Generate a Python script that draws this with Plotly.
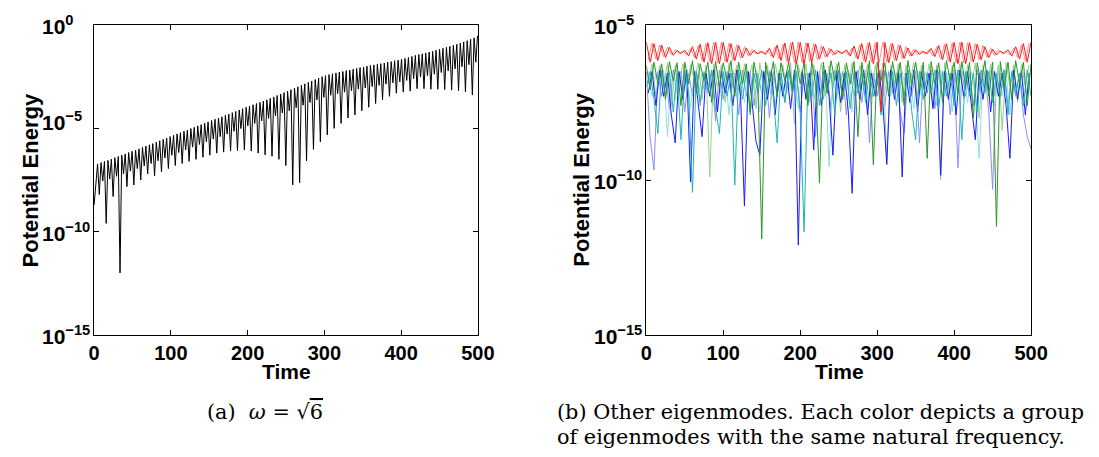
import plotly.graph_objects as go

# ---------------- data ----------------
# Left panel: omega = sqrt(6); potential energy given as log10 values
T_LEFT = [0, 2.25, 4.5, 6.75, 9, 11.25, 13.5, 15.75, 18, 20.25, 22.5, 24.75, 27, 29.25, 31.5, 33.75,
          36, 38.25, 40.5, 42.75, 45, 47.25, 49.5, 51.75, 54, 56.25, 58.5, 60.75, 63, 65.25, 67.5, 69.75,
          72, 74.25, 76.5, 78.75, 81, 83.25, 85.5, 87.75, 90, 92.25, 94.5, 96.75, 99, 101.25, 103.5, 105.75,
          108, 110.25, 112.5, 114.75, 117, 119.25, 121.5, 123.75, 126, 128.25, 130.5, 132.75, 135, 137.25,
          139.5, 141.75, 144, 146.25, 148.5, 150.75, 153, 155.25, 157.5, 159.75, 162, 164.25, 166.5, 168.75,
          171, 173.25, 175.5, 177.75, 180, 182.25, 184.5, 186.75, 189, 191.25, 193.5, 195.75, 198, 200.25,
          202.5, 204.75, 207, 209.25, 211.5, 213.75, 216, 218.25, 220.5, 222.75, 225, 227.25, 229.5, 231.75,
          234, 236.25, 238.5, 240.75, 243, 245.25, 247.5, 249.75, 252, 254.25, 256.5, 258.75, 261, 263.25,
          265.5, 267.75, 270, 272.25, 274.5, 276.75, 279, 281.25, 283.5, 285.75, 288, 290.25, 292.5, 294.75,
          297, 299.25, 301.5, 303.75, 306, 308.25, 310.5, 312.75, 315, 317.25, 319.5, 321.75, 324, 326.25,
          328.5, 330.75, 333, 335.25, 337.5, 339.75, 342, 344.25, 346.5, 348.75, 351, 353.25, 355.5, 357.75,
          360, 362.25, 364.5, 366.75, 369, 371.25, 373.5, 375.75, 378, 380.25, 382.5, 384.75, 387, 389.25,
          391.5, 393.75, 396, 398.25, 400.5, 402.75, 405, 407.25, 409.5, 411.75, 414, 416.25, 418.5, 420.75,
          423, 425.25, 427.5, 429.75, 432, 434.25, 436.5, 438.75, 441, 443.25, 445.5, 447.75, 450, 452.25,
          454.5, 456.75, 459, 461.25, 463.5, 465.75, 468, 470.25, 472.5, 474.75, 477, 479.25, 481.5, 483.75,
          486, 488.25, 490.5, 492.75, 495, 497.25, 499.5]

LEFT_LOG = [
    -8.70, -7.65, -6.72, -8.20,   -6.66, -7.55, -6.60, -9.60,   -6.55, -7.45, -6.49, -8.30,
    -6.42, -7.32, -6.36, -12.00,  -6.30, -7.20, -6.24, -7.82,   -6.17, -7.07, -6.11, -7.74,
    -6.05, -6.95, -5.99, -7.50,   -5.92, -6.82, -5.86, -7.20,   -5.80, -6.70, -5.74, -7.30,
    -5.67, -6.57, -5.60, -7.10,   -5.53, -6.43, -5.47, -6.95,   -5.40, -6.30, -5.34, -6.80,
    -5.27, -6.17, -5.21, -6.70,   -5.14, -6.04, -5.08, -6.60,   -5.01, -5.91, -4.95, -6.50,
    -4.88, -5.78, -4.82, -6.40,   -4.75, -5.65, -4.69, -6.30,   -4.62, -5.52, -4.56, -6.20,
    -4.50, -5.40, -4.44, -6.15,   -4.37, -5.27, -4.31, -6.10,   -4.24, -5.14, -4.18, -6.08,
    -4.11, -5.01, -4.05, -6.05,   -3.98, -4.88, -3.92, -6.10,   -3.86, -4.76, -3.80, -6.20,
    -3.74, -4.64, -3.68, -6.28,   -3.62, -4.52, -3.55, -6.35,   -3.48, -4.40, -3.41, -6.50,
    -3.34, -4.26, -3.27, -6.80,   -3.20, -4.15, -3.13, -7.74,   -3.06, -4.00, -2.99, -7.63,
    -2.92, -3.88, -2.85, -6.58,   -2.78, -3.75, -2.71, -6.02,   -2.64, -3.62, -2.57, -5.65,
    -2.50, -3.50, -2.45, -5.32,   -2.40, -3.40, -2.36, -5.00,   -2.32, -3.32, -2.28, -4.76,
    -2.25, -3.25, -2.21, -4.50,   -2.18, -3.18, -2.14, -4.35,   -2.10, -3.10, -2.06, -4.15,
    -2.03, -3.05, -1.99, -3.98,   -1.96, -2.98, -1.93, -3.80,   -1.90, -2.92, -1.87, -3.62,
    -1.84, -2.86, -1.80, -3.45,   -1.77, -2.80, -1.73, -3.30,   -1.70, -2.75, -1.66, -3.25,
    -1.62, -2.68, -1.57, -3.20,   -1.52, -2.60, -1.47, -3.08,   -1.43, -2.52, -1.39, -3.08,
    -1.35, -2.45, -1.31, -3.11,   -1.27, -2.38, -1.22, -3.11,   -1.18, -2.30, -1.13, -3.12,
    -1.08, -2.22, -1.03, -3.15,   -0.98, -2.12, -0.93, -3.18,   -0.88, -2.02, -0.82, -3.23,
    -0.76, -1.92, -0.69, -3.39,   -0.62, -1.80, -0.52]

# Right panel: other eigenmodes (log10 of potential energy)
T_A = [0, 5, 10, 15, 20, 25, 30, 35, 40, 45, 50, 55, 60, 65, 70, 75, 80, 85, 90, 95,
       100, 105, 110, 115, 120, 125, 130, 135, 140, 145, 150, 155, 160, 165, 170, 175, 180, 185, 190, 195,
       200, 205, 210, 215, 220, 225, 230, 235, 240, 245, 250, 255, 260, 265, 270, 275, 280, 285, 290, 295,
       300, 305, 310, 315, 320, 325, 330, 335, 340, 345, 350, 355, 360, 365, 370, 375, 380, 385, 390, 395,
       400, 405, 410, 415, 420, 425, 430, 435, 440, 445, 450, 455, 460, 465, 470, 475, 480, 485, 490, 495, 500]
T_B = [2.5, 7.5, 12.5, 17.5, 22.5, 27.5, 32.5, 37.5, 42.5, 47.5, 52.5, 57.5, 62.5, 67.5, 72.5, 77.5, 82.5, 87.5, 92.5, 97.5,
       102.5, 107.5, 112.5, 117.5, 122.5, 127.5, 132.5, 137.5, 142.5, 147.5, 152.5, 157.5, 162.5, 167.5, 172.5, 177.5, 182.5, 187.5, 192.5, 197.5,
       202.5, 207.5, 212.5, 217.5, 222.5, 227.5, 232.5, 237.5, 242.5, 247.5, 252.5, 257.5, 262.5, 267.5, 272.5, 277.5, 282.5, 287.5, 292.5, 297.5,
       302.5, 307.5, 312.5, 317.5, 322.5, 327.5, 332.5, 337.5, 342.5, 347.5, 352.5, 357.5, 362.5, 367.5, 372.5, 377.5, 382.5, 387.5, 392.5, 397.5,
       402.5, 407.5, 412.5, 417.5, 422.5, 427.5, 432.5, 437.5, 442.5, 447.5, 452.5, 457.5, 462.5, 467.5, 472.5, 477.5, 482.5, 487.5, 492.5, 497.5]

RED_A = [-5.55, -6.2, -5.6, -6.15, -5.65, -6.05, -5.72, -5.98, -5.82, -5.92,
         -5.82, -6.0, -5.7, -6.1, -5.62, -6.2, -5.57, -6.25, -5.55, -6.25,
         -5.56, -6.2, -5.6, -6.15, -5.66, -6.05, -5.74, -5.98, -5.82, -5.93,
         -5.85, -5.95, -5.75, -6.05, -5.65, -6.15, -5.58, -6.22, -5.55, -6.25,
         -5.56, -6.25, -5.58, -6.2, -5.62, -6.1, -5.7, -6.02, -5.78, -5.95,
         -5.84, -5.92, -5.8, -6.0, -5.68, -6.1, -5.6, -6.2, -5.56, -6.25,
         -5.55, -7.8, -5.56, -6.22, -5.6, -6.15, -5.66, -6.08, -5.74, -6.0,
         -5.8, -5.95, -5.85, -5.93, -5.76, -6.02, -5.66, -6.12, -5.6, -6.2,
         -5.56, -6.25, -5.55, -6.25, -5.57, -6.2, -5.62, -6.12, -5.7, -6.05,
         -5.78, -5.97, -5.84, -5.92, -5.8, -6.0, -5.7, -6.1, -5.6, -6.2,
         -5.55]
PINK_B = [-6.12, -5.58, -6.1, -5.64, -6.02, -5.72, -5.96, -5.8, -5.92, -5.84,
          -5.95, -5.76, -6.05, -5.66, -6.15, -5.6, -6.2, -5.56, -6.22, -5.55,
          -6.2, -5.58, -6.15, -5.63, -6.08, -5.7, -6.0, -5.78, -5.94, -5.84,
          -5.93, -5.8, -6.0, -5.7, -6.1, -5.62, -6.18, -5.57, -6.22, -5.55,
          -6.22, -5.57, -6.18, -5.6, -6.12, -5.66, -6.05, -5.74, -5.98, -5.8,
          -5.93, -5.84, -5.96, -5.74, -6.05, -5.64, -6.15, -5.58, -6.2, -5.56,
          -6.22, -5.55, -6.2, -5.58, -6.15, -5.63, -6.08, -5.7, -6.0, -5.78,
          -5.95, -5.84, -5.93, -5.8, -6.0, -5.7, -6.1, -5.62, -6.18, -5.57,
          -6.22, -5.55, -6.22, -5.57, -6.18, -5.6, -6.12, -5.66, -6.04, -5.74,
          -5.98, -5.8, -5.93, -5.84, -5.96, -5.74, -6.05, -5.64, -6.15, -5.58]
GREEN_A = [-6.3, -7.1, -6.2, -6.9, -6.25, -7.4, -6.18, -6.8, -6.22, -7.6,
           -6.2, -6.9, -6.15, -7.2, -6.25, -6.8, -6.2, -7.5, -6.18, -7.0,
           -6.22, -6.8, -6.15, -7.3, -6.2, -6.9, -6.25, -7.8, -6.2, -6.9,
           -11.9, -6.2, -6.9, -6.18, -7.3, -6.22, -6.8, -6.2, -7.1, -6.15,
           -6.9, -6.2, -7.6, -6.18, -6.9, -10.1, -6.2, -7.2, -6.15, -6.8,
           -6.2, -7.4, -6.22, -6.9, -6.18, -8.6, -6.2, -7.0, -6.15, -9.5,
           -6.2, -6.8, -6.22, -7.3, -6.18, -6.9, -6.2, -7.6, -6.15, -6.9,
           -6.2, -7.1, -6.2, -9.3, -6.18, -6.9, -6.22, -7.5, -6.15, -6.8,
           -6.2, -7.2, -6.18, -7.0, -6.2, -8.0, -6.22, -6.9, -6.15, -7.3,
           -6.2, -11.5, -6.18, -7.0, -6.2, -7.4, -6.15, -6.9, -6.2, -7.6,
           -6.25]
LGREEN_B = [-6.9, -6.25, -7.3, -6.3, -7.0, -6.22, -7.6, -6.3, -6.9, -6.25,
            -7.2, -6.28, -6.8, -6.22, -7.4, -6.3, -9.9, -6.25, -7.0, -6.28,
            -7.5, -6.22, -6.9, -6.3, -7.3, -6.25, -6.8, -6.28, -7.7, -6.22,
            -7.0, -6.3, -7.4, -6.25, -6.9, -6.28, -7.2, -6.22, -8.2, -6.3,
            -6.9, -6.25, -7.5, -6.28, -7.0, -6.22, -7.3, -6.3, -6.9, -6.25,
            -7.8, -6.28, -7.0, -6.22, -7.3, -6.3, -6.9, -6.25, -7.4, -6.28,
            -7.0, -6.22, -9.4, -6.3, -7.1, -6.25, -7.5, -6.28, -6.9, -6.22,
            -7.3, -6.3, -7.0, -6.25, -7.6, -6.28, -10.0, -6.22, -7.2, -6.3,
            -6.9, -6.25, -7.4, -6.28, -7.0, -6.22, -8.0, -6.3, -7.1, -6.25,
            -7.3, -6.28, -8.4, -6.22, -7.0, -6.3, -7.5, -6.25, -7.0, -6.28]
BLUE_B = [-7.2, -6.5, -7.6, -6.45, -7.3, -6.55, -7.9, -8.8, -6.5, -7.4,
          -6.45, -10.06, -6.5, -7.5, -8.6, -6.55, -7.3, -6.45, -7.8, -6.5,
          -7.2, -6.55, -7.6, -6.45, -7.3, -10.84, -6.5, -7.5, -8.75, -9.2,
          -6.5, -7.4, -6.45, -7.9, -6.55, -7.3, -6.5, -7.7, -6.45, -12.1,
          -6.5, -7.4, -6.55, -9.03, -6.5, -7.6, -6.45, -7.3, -9.2, -6.5,
          -7.5, -6.55, -7.8, -10.43, -6.5, -7.4, -6.45, -7.9, -6.55, -7.3,
          -6.5, -7.6, -9.5, -6.45, -7.4, -6.5, -9.9, -6.55, -7.5, -6.45,
          -7.8, -6.5, -7.3, -6.55, -7.7, -6.45, -9.85, -6.5, -7.4, -6.55,
          -7.9, -6.45, -7.3, -6.5, -7.6, -8.7, -6.55, -7.4, -6.45, -7.8,
          -6.5, -7.3, -6.55, -7.6, -9.3, -6.45, -7.4, -6.5, -7.9, -6.55]
LBLUE_A = [-6.5, -8.65, -9.68, -6.5, -7.3, -6.55, -7.7, -6.45, -7.2, -6.5,
           -7.8, -6.55, -7.3, -6.45, -7.6, -6.5, -7.2, -6.55, -8.1, -6.45,
           -7.4, -6.5, -7.2, -6.55, -7.9, -6.45, -7.3, -6.5, -7.6, -6.55,
           -7.2, -6.45, -8.0, -6.5, -7.3, -6.55, -7.5, -6.45, -7.2, -6.5,
           -7.8, -6.55, -7.3, -6.45, -8.6, -6.5, -7.4, -6.55, -7.7, -6.45,
           -7.2, -6.5, -7.9, -6.55, -7.3, -6.45, -7.5, -6.5, -8.8, -6.55,
           -7.3, -6.45, -7.6, -6.5, -7.2, -6.55, -7.8, -8.5, -6.45, -7.3,
           -6.5, -8.8, -6.55, -7.2, -6.45, -7.7, -6.5, -7.3, -6.55, -7.9,
           -6.45, -9.6, -6.5, -7.3, -6.55, -7.6, -6.45, -7.2, -6.5, -7.8,
           -10.3, -6.55, -7.4, -6.45, -7.6, -6.5, -7.3, -6.55, -7.9, -8.6,
           -9.0]
TEAL_A = [-7.0, -6.5, -7.4, -8.5, -6.45, -7.3, -6.5, -7.8, -6.55, -8.7,
          -6.45, -7.2, -10.4, -6.5, -7.5, -6.55, -7.1, -6.45, -7.7, -8.5,
          -6.5, -7.3, -6.55, -10.16, -6.45, -7.4, -6.5, -7.9, -6.55, -7.2,
          -6.45, -7.6, -6.5, -7.3, -8.8, -6.55, -7.5, -6.45, -7.2, -6.5,
          -7.8, -11.67, -6.55, -7.3, -6.45, -7.6, -6.5, -7.2, -6.55, -7.9,
          -6.45, -7.4, -6.5, -7.7, -6.55, -7.2, -6.45, -7.5, -6.5, -7.3,
          -6.55, -7.9, -6.45, -7.2, -6.5, -7.6, -6.55, -7.3, -6.45, -7.8,
          -8.7, -6.5, -7.4, -6.55, -7.2, -6.45, -7.7, -6.5, -7.3, -6.55,
          -7.6, -6.45, -8.7, -6.5, -7.3, -6.55, -7.8, -6.45, -7.2, -6.5,
          -7.5, -6.55, -7.3, -6.45, -7.9, -6.5, -7.2, -6.55, -7.6, -6.45,
          -7.3]
LCYAN_B = [-6.5, -7.3, -6.55, -7.1, -6.45, -8.6, -6.5, -7.4, -6.55, -7.2,
           -6.45, -7.7, -6.5, -7.3, -6.55, -7.1, -6.45, -7.6, -6.5, -7.3,
           -6.55, -7.9, -6.45, -7.2, -6.5, -7.5, -6.55, -7.3, -6.45, -7.8,
           -6.5, -7.2, -6.55, -7.6, -6.45, -7.3, -6.5, -7.1, -6.55, -7.7,
           -6.45, -7.3, -6.5, -7.5, -6.55, -7.2, -6.45, -9.57, -6.5, -7.4,
           -6.55, -7.2, -6.45, -7.8, -6.5, -7.3, -6.55, -7.6, -6.45, -7.2,
           -6.5, -7.9, -6.55, -7.3, -6.45, -7.5, -6.5, -7.2, -6.55, -7.7,
           -6.45, -7.3, -6.5, -7.1, -6.55, -7.6, -6.45, -7.3, -6.5, -7.8,
           -6.55, -7.2, -6.45, -7.5, -6.5, -7.3, -9.3, -6.55, -7.2, -6.45,
           -7.6, -6.5, -7.3, -6.55, -7.9, -6.45, -7.2, -6.5, -7.5, -6.55]

X_TICKS = [0, 100, 200, 300, 400, 500]
LEFT_YTICK_EXP = [0, -5, -10, -15]
RIGHT_YTICK_EXP = [-5, -10, -15]

for name, t, v in [("left", T_LEFT, LEFT_LOG), ("red", T_A, RED_A), ("pink", T_B, PINK_B),
                   ("green", T_A, GREEN_A), ("lgreen", T_B, LGREEN_B), ("blue", T_B, BLUE_B),
                   ("lblue", T_A, LBLUE_A), ("teal", T_A, TEAL_A), ("lcyan", T_B, LCYAN_B)]:
    assert len(t) == len(v), (name, len(t), len(v))

# ---------------- figure ----------------
W, H = 1099, 457
def fx(p):
    return p / W
def fy(p):
    return 1 - p / H

fig = go.Figure()
fig.add_trace(go.Scatter(x=T_LEFT, y=[10 ** v for v in LEFT_LOG], mode="lines",
                         line=dict(color="black", width=1), xaxis="x", yaxis="y",
                         showlegend=False, hoverinfo="skip"))

right_series = [
    (T_A, LBLUE_A, "#8c8cff"),
    (T_B, LCYAN_B, "#8ee0e0"),
    (T_B, LGREEN_B, "#94d094"),
    (T_B, BLUE_B, "#1a1aff"),
    (T_A, TEAL_A, "#1fb5b5"),
    (T_A, GREEN_A, "#2a962a"),
    (T_B, PINK_B, "#ff8c8c"),
    (T_A, RED_A, "#ff1a1a"),
]
for t, v, c in right_series:
    fig.add_trace(go.Scatter(x=t, y=[10 ** e for e in v], mode="lines",
                             line=dict(color=c, width=1), xaxis="x2", yaxis="y2",
                             showlegend=False, hoverinfo="skip"))

tick_font = dict(family="Liberation Sans, Arial", size=20, color="black", weight="bold")
common_x = dict(range=[0, 500], tickvals=X_TICKS, ticks="inside", ticklen=5, tickwidth=1,
                tickcolor="black", showline=True, linecolor="black", linewidth=1.3,
                mirror="ticks", showgrid=False, zeroline=False, tickfont=tick_font,
                ticklabelstandoff=0)
common_y = dict(type="log", ticks="inside", ticklen=5, tickwidth=1, tickcolor="black",
                showline=True, linecolor="black", linewidth=1.3, mirror="ticks",
                showgrid=False, zeroline=False, showticklabels=False)

ydom = [fy(335), fy(25)]
fig.update_layout(
    width=W, height=H, margin=dict(l=0, r=0, t=0, b=0),
    paper_bgcolor="white", plot_bgcolor="white",
    xaxis=dict(domain=[fx(90), fx(482)], anchor="y", **common_x),
    yaxis=dict(domain=ydom, anchor="x", range=[-15, 0],
               tickvals=[10 ** e for e in LEFT_YTICK_EXP], **common_y),
    xaxis2=dict(domain=[fx(654), fx(1047)], anchor="y2", **common_x),
    yaxis2=dict(domain=ydom, anchor="x2", range=[-15, -5],
                tickvals=[10 ** e for e in RIGHT_YTICK_EXP], **common_y),
)

ann = []
lab_font = dict(family="Liberation Sans, Arial", size=21, color="black")
LEFT_LABEL_SHIFT = {0: 0, -5: 7, -10: 0, -15: 0}
for e in LEFT_YTICK_EXP:
    ann.append(dict(xref="paper", yref="y", x=fx(35), y=e, xanchor="left", yanchor="middle",
                    text="<b>10<sup>%s</sup></b>" % (str(e).replace("-", "−")),
                    showarrow=False, font=lab_font, yshift=LEFT_LABEL_SHIFT[e]))
for e in RIGHT_YTICK_EXP:
    ann.append(dict(xref="paper", yref="y2", x=fx(599), y=e, xanchor="left", yanchor="middle",
                    text="<b>10<sup>%s</sup></b>" % (str(e).replace("-", "−")),
                    showarrow=False, font=lab_font, yshift=0))

title_font = dict(family="Liberation Sans, Arial", size=21, color="black")
for xc in (fx(286), fx(851)):
    ann.append(dict(xref="paper", yref="paper", x=xc, y=fy(371), xanchor="center", yanchor="middle",
                    text="<b>Time</b>", showarrow=False, font=title_font))
pe_font = dict(family="Liberation Sans, Arial", size=22, color="black")
for xc in (fx(25), fx(587)):
    ann.append(dict(xref="paper", yref="paper", x=xc, y=fy(180), xanchor="center", yanchor="middle",
                    text="<b>Potential Energy</b>", showarrow=False, font=pe_font, textangle=-90))

cap_font = dict(family="DejaVu Serif", size=20.8, color="black")
ann.append(dict(xref="paper", yref="paper", x=fx(265), y=fy(412), xanchor="center", yanchor="middle",
                text="(a)  <i>ω</i> = √<span style='text-decoration:overline'>6</span>",
                showarrow=False, font=cap_font))
ann.append(dict(xref="paper", yref="paper", x=fx(561), y=fy(412), xanchor="left", yanchor="middle",
                text="(b) Other eigenmodes. Each color depicts a group",
                showarrow=False, font=cap_font))
ann.append(dict(xref="paper", yref="paper", x=fx(561), y=fy(437), xanchor="left", yanchor="middle",
                text="of eigenmodes with the same natural frequency.",
                showarrow=False, font=cap_font))
fig.update_layout(annotations=ann)

fig.write_html("out.html")
